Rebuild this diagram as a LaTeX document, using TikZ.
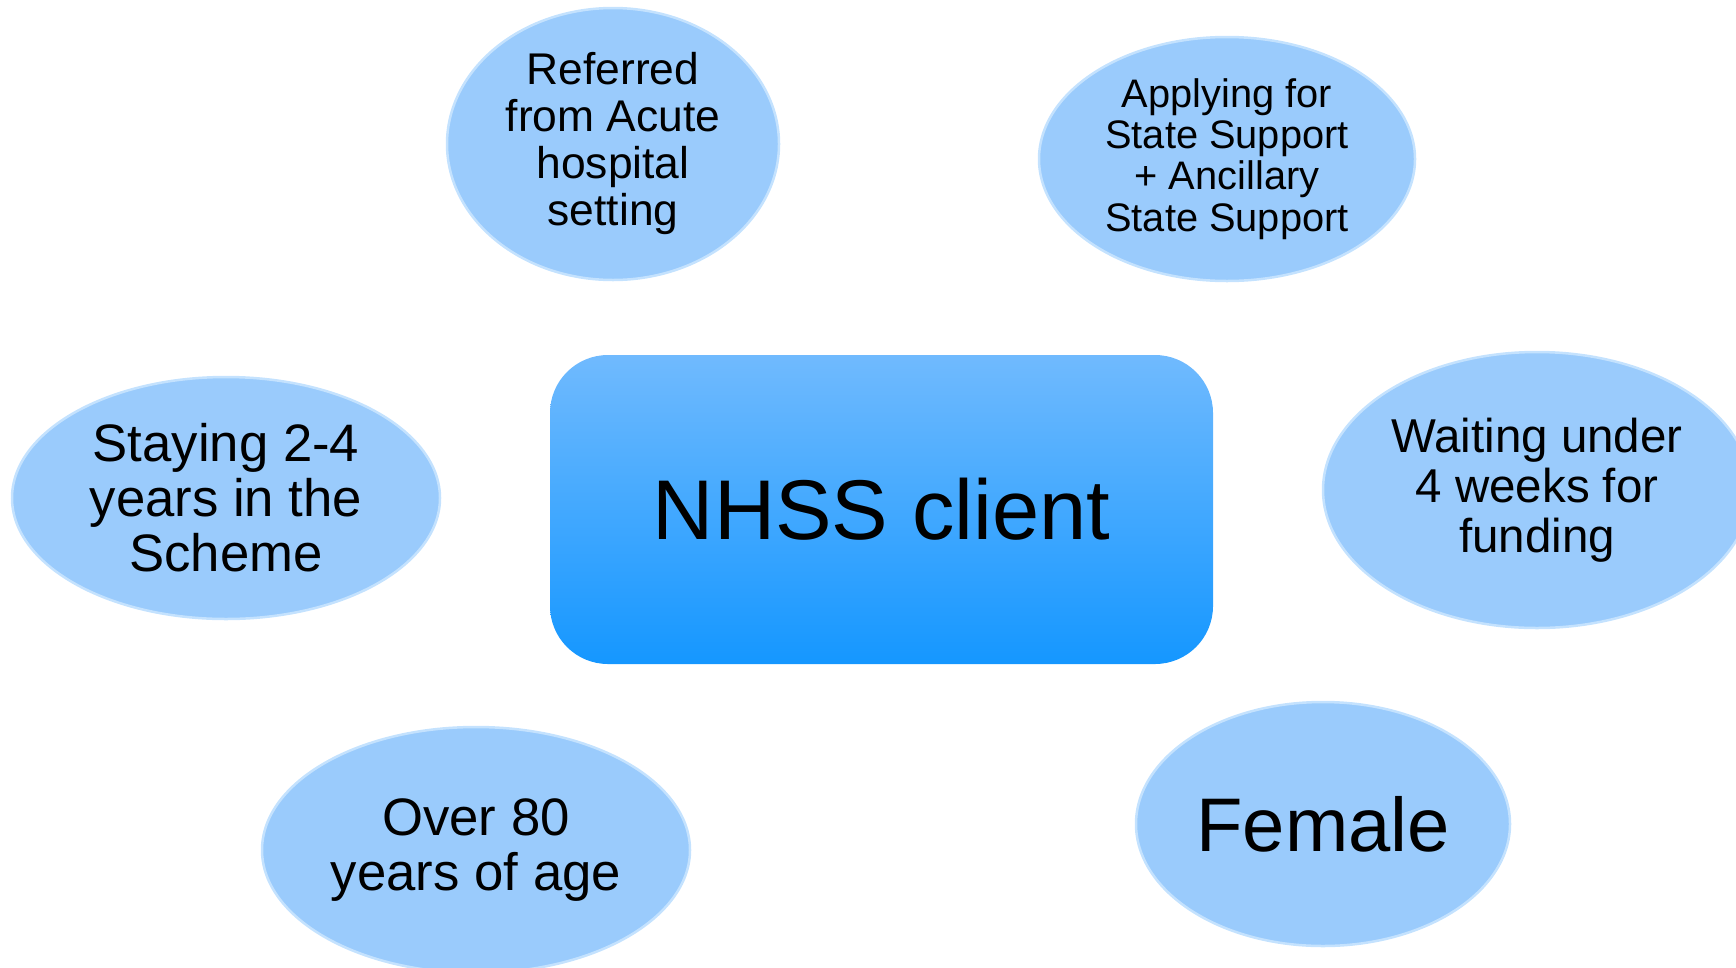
\documentclass[tikz,border=0pt]{standalone}
\usepackage{fontspec}
\setmainfont{Liberation Sans}
\usetikzlibrary{shapes.geometric}
\definecolor{bubblefill}{HTML}{9ACBFC}
\definecolor{bubblerim}{HTML}{C4E2FE}
\definecolor{boxtop}{HTML}{70BAFE}
\definecolor{boxbottom}{HTML}{1597FF}
\tikzset{
  bubble/.style={ellipse, fill=bubblefill, draw=bubblerim, line width=2.5pt,
    inner sep=0pt, align=center, text=black},
  centrebox/.style={rectangle, rounded corners=58pt, top color=boxtop,
    bottom color=boxbottom, draw=none, minimum width=663pt, minimum height=309pt,
    inner sep=0pt, align=center},
}
\newcommand{\fsz}[2]{\fontsize{#1pt}{#2pt}\selectfont}
\begin{document}
\begin{tikzpicture}[x=1pt,y=-1pt]
    \useasboundingbox (0,0) rectangle (1736,967);
    \clip (0,0) rectangle (1736,967);
    % centre
    \node[centrebox, font=\fsz{84.8}{90}] (client) at (881.5,509.5) {NHSS client};
    % surrounding bubbles
    \node[bubble, minimum width=332pt, minimum height=272pt, font=\fsz{44.4}{47}]
      (referred) at (613,144) {Referred\\from Acute\\hospital\\setting};
    \node[bubble, minimum width=376pt, minimum height=244pt, font=\fsz{39.8}{41.3}]
      (applying) at (1227,159) {Applying for\\State Support\\+ Ancillary\\State Support};
    \node[bubble, minimum width=428pt, minimum height=242pt, font=\fsz{52.7}{55}]
      (staying) at (226,498) {Staying 2-4\\years in the\\Scheme};
    \node[bubble, minimum width=428pt, minimum height=276pt, font=\fsz{47.5}{50}]
      (waiting) at (1537,490) {Waiting under\\4 weeks for\\funding};
    \node[bubble, minimum width=428pt, minimum height=246pt, font=\fsz{52.7}{55}]
      (over) at (476,850) {Over 80\\years of age};
    \node[bubble, minimum width=374pt, minimum height=244pt, font=\fsz{76}{80}]
      (female) at (1323,824) {Female};
\end{tikzpicture}
\end{document}
